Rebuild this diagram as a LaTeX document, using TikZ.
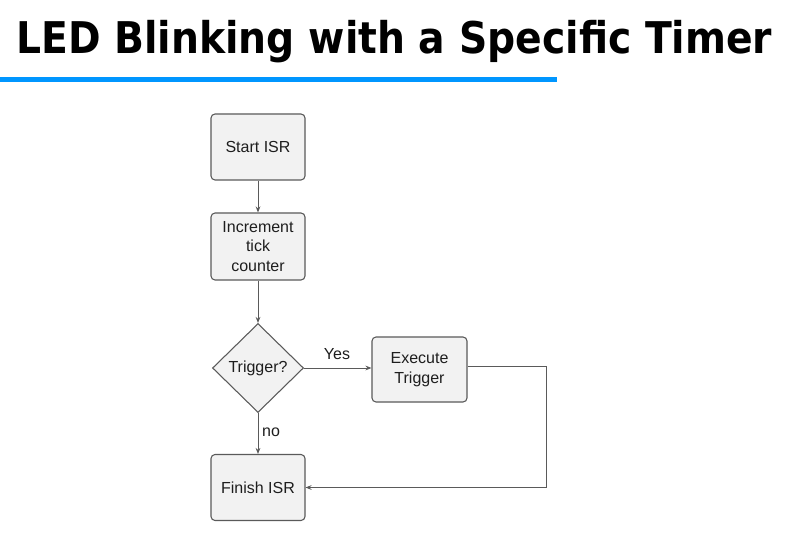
\documentclass[tikz,border=0pt]{standalone}
\usepackage{fontspec}
\setmainfont{Liberation Sans}
\newfontfamily\titlefont{DejaVu Sans}
\usetikzlibrary{shapes.geometric,arrows.meta}
\definecolor{titleblue}{RGB}{0,150,255}
\definecolor{boxfill}{RGB}{242,242,242}
\definecolor{boxline}{RGB}{90,90,90}
\definecolor{txt}{RGB}{30,30,30}
\begin{document}
\begin{tikzpicture}[x=0.75pt,y=-0.75pt,
  procbox/.style={draw=boxline,fill=boxfill,rounded corners=3pt,line width=0.8pt,
    minimum width=70.5pt,minimum height=49.5pt,inner sep=0pt,align=center,
    font=\fontsize{12}{14.6}\selectfont,text=txt},
  decbox/.style={draw=boxline,fill=boxfill,diamond,line width=0.8pt,inner sep=0pt,
    minimum width=68.25pt,minimum height=66.75pt,
    font=\fontsize{12}{14.6}\selectfont,text=txt},
  conn/.style={draw=boxline,line width=0.75pt,-{Stealth[length=4.5pt,width=3.5pt]}},
  lbl/.style={font=\fontsize{12}{14.6}\selectfont,text=txt,inner sep=0pt}]
\useasboundingbox (0,0) rectangle (798,541);
\fill[white] (0,0) rectangle (798,541);
\node[anchor=base west,inner sep=0pt] (title) at (16,53.5)
  {\resizebox{567pt}{24.9pt}{\titlefont\bfseries LED Blinking with a Specific Timer}};
\fill[titleblue] (0,77.3) rectangle (557,82.3);
\node[procbox] (start) at (258,147) {Start ISR};
\node[procbox,minimum height=50.25pt] (inc) at (258,246.5) {Increment\\tick\\counter};
\node[decbox] (dec) at (258,368) {Trigger?};
\node[procbox,minimum width=71.25pt,minimum height=48.75pt] (exe) at (419.5,369.5) {Execute\\Trigger};
\node[procbox] (fin) at (258,487.5) {Finish ISR};
\coordinate (corner) at (546,366.7);
\draw[conn] (start) -- (inc);
\draw[conn] (inc) -- (dec);
\draw[conn] (dec.east) -- (dec.east -| exe.west);
\node[lbl] (yes) at (337,354) {Yes};
\draw[conn] (dec) -- (fin);
\node[lbl] (no) at (271,432) {no};
\draw[conn] (corner -| exe.east) -- (corner) |- (fin.east);
\end{tikzpicture}
\end{document}
